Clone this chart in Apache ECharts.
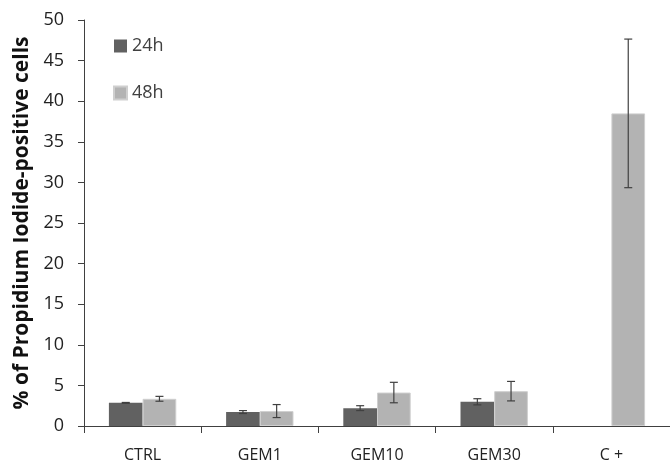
<!DOCTYPE html>
<html>
<head>
<meta charset="utf-8">
<script src="https://cdn.jsdelivr.net/npm/echarts@6/dist/echarts.min.js"></script>
<style>
  html, body { margin: 0; padding: 0; background: #fff; }
  #chart { width: 670px; height: 463px; }
</style>
</head>
<body>
<div id="chart"></div>
<script>
// Percentage of propidium iodide-positive cells per treatment
const categories = ['CTRL', 'GEM1', 'GEM10', 'GEM30', 'C +'];
const seriesNames = ['24h', '48h'];
const values24h = [2.85, 1.72, 2.2, 2.98, null];
const values48h = [3.35, 1.84, 4.12, 4.29, 38.5];
const errors24h = [0.05, 0.18, 0.3, 0.38, null];
const errors48h = [0.3, 0.8, 1.26, 1.2, 9.15];

const colors = ['#616161', '#b3b3b3'];
const axisColor = '#404040';
const fontFamily = '"Open Sans", "Noto Sans", sans-serif';

// Error-bar data: [categoryIndex, low, high]
function errorData(values, errors) {
  return values.map((v, i) => (v == null || errors[i] == null)
    ? [i, null, null]
    : [i, v - errors[i], v + errors[i]]);
}

const categoryGap = 0.425;

function errorSeries(values, errors, side) {
  return {
    type: 'custom',
    name: seriesNames[side < 0 ? 0 : 1] + ' error',
    data: errorData(values, errors),
    z: 10,
    silent: true,
    encode: { x: 0, y: [1, 2] },
    renderItem: function (params, api) {
      const lo = api.value(1), hi = api.value(2);
      if (lo == null || isNaN(lo) || hi == null || isNaN(hi)) return null;
      const band = api.size([1, 0])[0];
      const barW = band * (1 - categoryGap) / 2;
      const pLo = api.coord([api.value(0), lo]);
      const pHi = api.coord([api.value(0), hi]);
      const x = pLo[0] + side * barW / 2;
      const cap = 4;
      const style = { stroke: axisColor, lineWidth: 1.2 };
      return {
        type: 'group',
        children: [
          { type: 'line', shape: { x1: x, y1: pHi[1], x2: x, y2: pLo[1] }, style: style },
          { type: 'line', shape: { x1: x - cap, y1: pHi[1], x2: x + cap, y2: pHi[1] }, style: style },
          { type: 'line', shape: { x1: x - cap, y1: pLo[1], x2: x + cap, y2: pLo[1] }, style: style }
        ]
      };
    }
  };
}

const chart = echarts.init(document.getElementById('chart'), null, { renderer: 'canvas' });
chart.setOption({
  animation: false,
  backgroundColor: '#ffffff',
  textStyle: { fontFamily: fontFamily },
  grid: { left: 84, right: -6, top: 20, bottom: 35, containLabel: false },
  legend: {
    data: seriesNames,
    orient: 'vertical',
    left: 113,
    top: 37,
    padding: 0,
    itemWidth: 13,
    itemHeight: 13,
    itemGap: 29,
    icon: 'rect',
    textStyle: { fontFamily: fontFamily, fontSize: 18, lineHeight: 13, color: axisColor }
  },
  xAxis: {
    type: 'category',
    data: categories,
    axisLine: { lineStyle: { color: axisColor, width: 1 } },
    axisTick: { show: true, length: 7, alignWithLabel: false, lineStyle: { color: axisColor } },
    axisLabel: { color: '#222', fontSize: 16, margin: 21, fontFamily: fontFamily },
    splitLine: { show: false }
  },
  yAxis: {
    type: 'value',
    min: 0,
    max: 50,
    interval: 5,
    name: '% of Propidium Iodide-positive cells',
    nameLocation: 'middle',
    nameGap: 50,
    nameTextStyle: { fontSize: 21, fontWeight: 'bold', color: '#111', fontFamily: fontFamily },
    axisLine: { show: true, lineStyle: { color: axisColor, width: 1 } },
    axisTick: { show: true, length: 6, lineStyle: { color: axisColor } },
    axisLabel: { color: '#222', fontSize: 18, margin: 20, fontFamily: fontFamily },
    splitLine: { show: false }
  },
  series: [
    {
      name: seriesNames[0],
      type: 'bar',
      data: values24h,
      barGap: '0%',
      barCategoryGap: (categoryGap * 100) + '%',
      itemStyle: { color: colors[0] }
    },
    {
      name: seriesNames[1],
      type: 'bar',
      data: values48h,
      barGap: '0%',
      barCategoryGap: (categoryGap * 100) + '%',
      itemStyle: { color: colors[1], borderColor: '#cfcfcf', borderWidth: 1 }
    },
    errorSeries(values24h, errors24h, -1),
    errorSeries(values48h, errors48h, 1)
  ]
});
</script>
</body>
</html>
